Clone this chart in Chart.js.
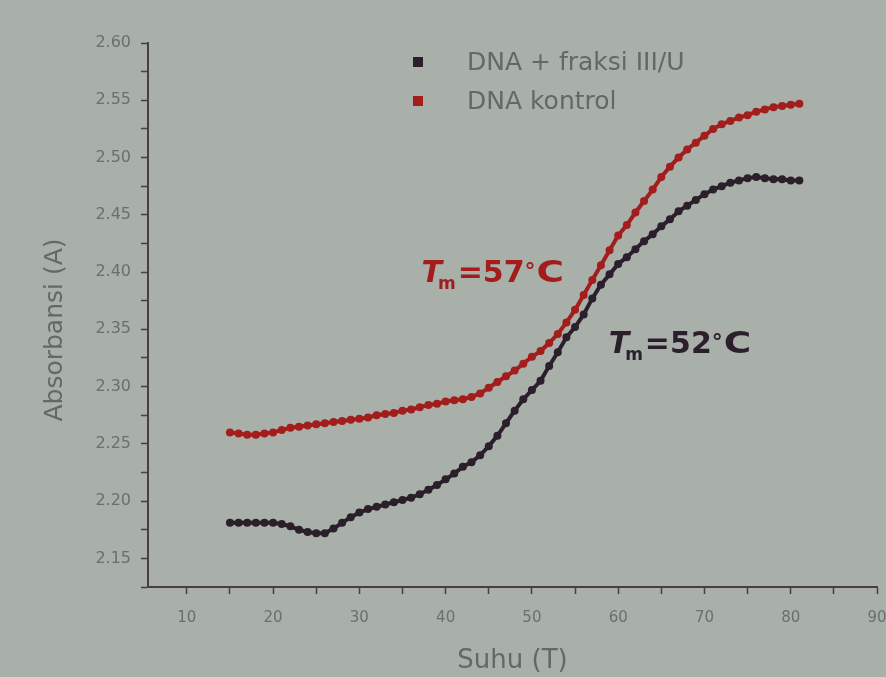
<!DOCTYPE html>
<html>
<head>
<meta charset="utf-8">
<script src="https://cdn.jsdelivr.net/npm/chart.js@4.4.1/dist/chart.umd.min.js"></script>
<style>
  html, body { margin: 0; padding: 0; background: #a9afa9; }
  #wrap { width: 886px; height: 677px; position: relative; }
  canvas { display: block; }
</style>
</head>
<body>
<div id="wrap"><canvas id="c" width="886" height="677" style="width:886px;height:677px"></canvas></div>
<script>
// ---- data ----
const temperatures = [15,16,17,18,19,20,21,22,23,24,25,26,27,28,29,30,31,32,33,34,35,36,37,38,39,40,41,42,43,44,45,46,47,48,49,50,51,52,53,54,55,56,57,58,59,60,61,62,63,64,65,66,67,68,69,70,71,72,73,74,75,76,77,78,79,80,81];
const absorbanceFraksi = [2.181,2.181,2.181,2.181,2.181,2.181,2.180,2.178,2.175,2.173,2.172,2.172,2.176,2.181,2.186,2.190,2.193,2.195,2.197,2.199,2.201,2.203,2.206,2.210,2.214,2.219,2.224,2.230,2.234,2.240,2.248,2.257,2.268,2.279,2.289,2.297,2.305,2.318,2.330,2.343,2.352,2.363,2.377,2.389,2.398,2.407,2.413,2.420,2.427,2.433,2.440,2.446,2.453,2.458,2.463,2.468,2.472,2.475,2.478,2.480,2.482,2.483,2.482,2.481,2.481,2.480,2.480];
const absorbanceKontrol = [2.260,2.259,2.258,2.258,2.259,2.260,2.262,2.264,2.265,2.266,2.267,2.268,2.269,2.270,2.271,2.272,2.273,2.275,2.276,2.277,2.279,2.280,2.282,2.284,2.285,2.287,2.288,2.289,2.291,2.294,2.299,2.304,2.309,2.314,2.320,2.326,2.331,2.338,2.346,2.356,2.367,2.380,2.393,2.406,2.419,2.432,2.441,2.452,2.462,2.472,2.483,2.492,2.500,2.507,2.513,2.519,2.525,2.529,2.532,2.535,2.537,2.540,2.542,2.544,2.545,2.546,2.547];
const seriesNames = ['DNA + fraksi III/U', 'DNA kontrol'];
const meltingTemps = [57, 52];          // Tm of DNA kontrol, DNA + fraksi
const yTickValues = [2.15,2.20,2.25,2.30,2.35,2.40,2.45,2.50,2.55,2.60];
const xTickValues = [10,20,30,40,50,60,70,80,90];
const xAxisTitle = 'Suhu (T)';
const yAxisTitle = 'Absorbansi (A)';

// ---- styling ----
const COL_BLACK = '#2b1f2b';
const COL_RED = '#a31d1c';
const TEXT_GREY = '#646866';
const AXIS_COL = '#4a3d47';
const X_MIN = 5.5, X_MAX = 90, Y_MIN = 2.125, Y_MAX = 2.60;

function toPoints(xs, ys) { return xs.map((t, i) => ({ x: t, y: ys[i] })); }

// minor ticks halfway between labelled ticks
function withMinor(vals) {
  const out = [];
  const step = vals[1] - vals[0];
  out.push(+(vals[0] - step / 2).toFixed(4));
  vals.forEach(v => { out.push(v); out.push(+(v + step / 2).toFixed(4)); });
  return out;
}

const tmNotes = [
  { value: meltingTemps[0], color: COL_RED,   at: { x: 37.2, y: 2.391 } },
  { value: meltingTemps[1], color: COL_BLACK, at: { x: 58.9, y: 2.329 } }
];

const overlay = {
  id: 'overlay',
  afterDatasetsDraw(chart) {
    const { ctx, scales: { x, y } } = chart;
    ctx.save();
    // y axis title
    ctx.save();
    ctx.translate(55, 330);
    ctx.rotate(-Math.PI / 2);
    ctx.fillStyle = TEXT_GREY;
    ctx.font = '25px "DejaVu Sans"';
    ctx.textAlign = 'center';
    ctx.textBaseline = 'middle';
    ctx.fillText(yAxisTitle, 0, 0);
    ctx.restore();
    // legend
    const legendColors = [COL_BLACK, COL_RED];
    seriesNames.forEach((name, i) => {
      const yy = 62 + i * 39;
      ctx.fillStyle = legendColors[i];
      ctx.fillRect(413, yy - 5, 10, 10);
      ctx.fillStyle = TEXT_GREY;
      ctx.font = '25px "DejaVu Sans"';
      ctx.textBaseline = 'middle';
      ctx.textAlign = 'left';
      ctx.fillText(name, 467, yy + 1);
    });
    // Tm annotations
    tmNotes.forEach(n => {
      let px = x.getPixelForValue(n.at.x);
      const py = y.getPixelForValue(n.at.y);
      ctx.fillStyle = n.color;
      ctx.textBaseline = 'alphabetic';
      ctx.textAlign = 'left';
      ctx.font = 'italic bold 30px "DejaVu Sans"';
      ctx.fillText('T', px, py);
      px += ctx.measureText('T').width - 4;
      ctx.font = 'bold 17px "DejaVu Sans"';
      ctx.fillText('m', px, py + 7);
      px += ctx.measureText('m').width + 2;
      ctx.font = 'bold 30px "DejaVu Sans"';
      const main = '=' + n.value;
      ctx.fillText(main, px, py);
      px += ctx.measureText(main).width;
      ctx.font = 'bold 22px "DejaVu Sans"';
      ctx.fillText('°', px, py - 4);
      px += ctx.measureText('°').width + 1;
      ctx.font = 'bold 30px "DejaVu Sans"';
      ctx.save();
      ctx.translate(px, py);
      ctx.scale(1.25, 1);
      ctx.fillText('C', 0, 0);
      ctx.restore();
    });
    ctx.restore();
  }
};

new Chart(document.getElementById('c'), {
  type: 'scatter',
  data: {
    datasets: [
      {
        label: seriesNames[0],
        data: toPoints(temperatures, absorbanceFraksi),
        showLine: true,
        borderColor: COL_BLACK,
        backgroundColor: COL_BLACK,
        borderWidth: 4,
        pointRadius: 4,
        pointBorderWidth: 0,
        tension: 0
      },
      {
        label: seriesNames[1],
        data: toPoints(temperatures, absorbanceKontrol),
        showLine: true,
        borderColor: COL_RED,
        backgroundColor: COL_RED,
        borderWidth: 4,
        pointRadius: 4,
        pointBorderWidth: 0,
        tension: 0
      }
    ]
  },
  options: {
    responsive: false,
    animation: false,
    devicePixelRatio: 1,
    layout: { padding: { top: 43, right: 9, bottom: 0, left: 0 } },
    plugins: { legend: { display: false }, tooltip: { enabled: false } },
    scales: {
      x: {
        type: 'linear',
        min: X_MIN,
        max: X_MAX,
        afterBuildTicks: s => { s.ticks = withMinor(xTickValues).filter(v => v >= X_MIN && v <= X_MAX).map(v => ({ value: v })); },
        afterFit: s => { s.height = 90; s.paddingRight = 9; s.paddingLeft = 0; },
        ticks: {
          autoSkip: false,
          maxRotation: 0,
          padding: 15,
          color: '#6b6f6d',
          font: { family: 'DejaVu Sans', size: 15 },
          callback: v => (xTickValues.includes(v) ? String(v) : '')
        },
        grid: { drawOnChartArea: false, drawTicks: true, tickLength: 7, tickColor: AXIS_COL, tickWidth: 1.5 },
        border: { display: true, color: AXIS_COL, width: 2 },
        title: { display: true, text: xAxisTitle, color: TEXT_GREY, font: { family: 'DejaVu Sans', size: 26 }, padding: { top: 0, bottom: 0 } }
      },
      y: {
        type: 'linear',
        min: Y_MIN,
        max: Y_MAX,
        afterBuildTicks: s => { s.ticks = withMinor(yTickValues).filter(v => v >= Y_MIN && v <= Y_MAX).map(v => ({ value: v })); },
        afterFit: s => { s.width = 148; },
        ticks: {
          autoSkip: false,
          padding: 10,
          color: '#6b6f6d',
          font: { family: 'DejaVu Sans', size: 16 },
          callback: v => (yTickValues.some(t => Math.abs(t - v) < 1e-6) ? v.toFixed(2) : '')
        },
        grid: { drawOnChartArea: false, drawTicks: true, tickLength: 7, tickColor: AXIS_COL, tickWidth: 1.5 },
        border: { display: true, color: AXIS_COL, width: 2 },
        title: { display: false }
      }
    }
  },
  plugins: [overlay]
});
</script>
</body>
</html>
